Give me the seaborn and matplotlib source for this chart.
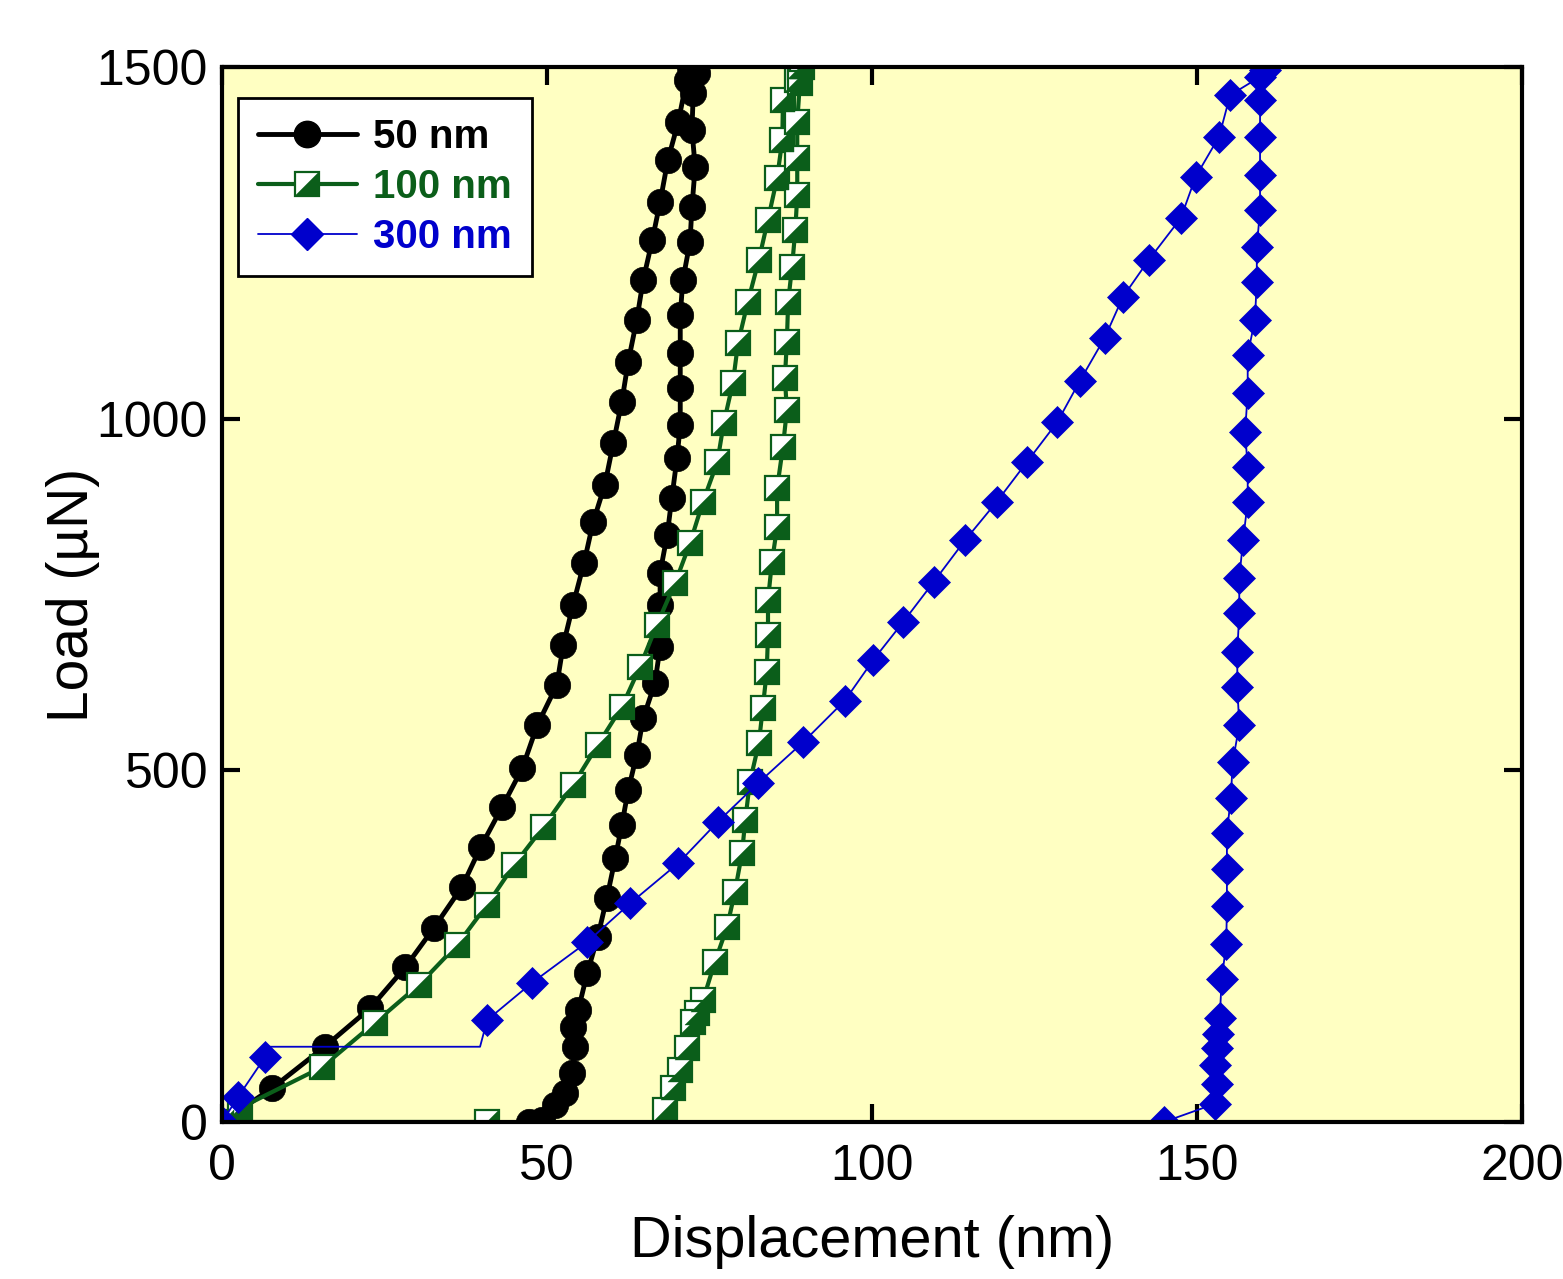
import numpy as np
import pandas as pd
import matplotlib
matplotlib.use("Agg")
import matplotlib.pyplot as plt
from matplotlib.path import Path
from matplotlib.lines import Line2D
from matplotlib.legend_handler import HandlerTuple
import seaborn as sns

# ---------------- data ----------------
# 50 nm film (loading then unloading)
disp_50 = [0, 7.7, 15.8, 22.8, 28.2, 32.6, 36.9, 39.8, 43.1, 46.2, 48.5, 51.5, 52.5, 54.0,
           55.7, 57.1, 58.9, 60.2, 61.5, 62.5, 63.8, 64.8, 66.2, 67.4, 68.6, 70.2, 71.5, 72.0,
           73.1, 72.5, 72.3, 72.8, 72.3, 72.0, 70.9, 70.5, 70.5, 70.5, 70.5, 70.0, 69.2, 68.5,
           67.4, 67.4, 67.4, 66.6, 64.8, 63.8, 62.5, 61.5, 60.5, 59.2, 57.8, 56.2, 54.8, 54.0,
           54.3, 53.8, 52.8, 51.2, 49.2, 47.2]
load_50 = [0, 48, 107, 162, 220, 276, 334, 391, 448, 503, 564, 621, 678, 735,
           795, 853, 906, 965, 1024, 1081, 1140, 1197, 1254, 1308, 1368, 1422, 1482, 1500,
           1492, 1463, 1410, 1358, 1301, 1251, 1197, 1147, 1093, 1044, 991, 944, 887, 835,
           781, 735, 675, 624, 574, 522, 472, 422, 375, 318, 263, 212, 159, 135,
           107, 70, 41, 24, 3, 0]

# 100 nm film
disp_100 = [40.8, 0, 2.8, 15.4, 23.5, 30.3, 36.2, 40.8, 44.9, 49.4, 54.0, 57.8, 61.5, 64.3,
            66.9, 69.7, 72.0, 74.0, 76.2, 77.2, 78.6, 79.4, 80.9, 82.6, 84.0, 85.4, 86.2,
            86.3, 88.5, 88.9,
            89.2, 88.9, 88.5, 88.5, 88.5, 88.2, 87.7, 87.1, 86.9, 86.6, 86.9, 86.3, 85.4,
            85.4, 84.6, 84.0, 84.0, 83.8, 83.2, 82.6, 81.2, 80.5, 80.0, 78.9, 77.7, 75.8,
            74.0, 73.1, 72.5, 71.5, 70.5, 69.4, 68.2]
load_100 = [0, 0, 20, 78, 141, 195, 252, 309, 365, 419, 479, 536, 590, 647,
            707, 766, 823, 882, 938, 994, 1051, 1108, 1166, 1226, 1283, 1342, 1396,
            1453, 1482, 1500,
            1500, 1477, 1422, 1371, 1318, 1268, 1216, 1166, 1109, 1058, 1012, 960, 901,
            846, 796, 742, 692, 640, 589, 539, 483, 429, 382, 327, 277, 227,
            173, 155, 142, 105, 74, 48, 17]

# 300 nm film
disp_300 = [0, 2.5, 6.6, 6.8, 39.7, 40.8, 47.7, 56.2, 62.8, 70.2, 76.3, 82.5, 89.4, 95.8,
            100.2, 104.8, 109.5, 114.3, 119.2, 123.8, 128.5, 132.0, 135.8, 138.6, 142.6,
            147.5, 149.8, 153.4, 155.1, 159.7,
            160.5, 159.7, 159.7, 159.7, 159.7, 159.2, 159.2, 158.9, 157.8, 157.8, 157.4,
            157.8, 157.8, 157.1, 156.5, 156.5, 156.2, 156.2, 156.5, 155.5, 155.2, 154.6,
            154.6, 154.6, 154.5, 153.8, 153.5, 153.2, 153.1, 152.8, 153.1, 152.8, 144.9]
load_300 = [0, 36, 92, 107, 107, 145, 198, 256, 311, 368, 427, 482, 540, 599,
            657, 711, 768, 827, 882, 938, 995, 1054, 1115, 1173, 1226,
            1285, 1344, 1401, 1460, 1486,
            1496, 1453, 1401, 1346, 1297, 1244, 1194, 1140, 1091, 1037, 981,
            931, 882, 828, 773, 724, 668, 619, 564, 512, 461, 411,
            360, 307, 253, 203, 148, 125, 105, 81, 54, 26, 0]
marked_300 = [i for i in range(len(disp_300)) if i not in (3, 4)]

labels = ["50 nm", "100 nm", "300 nm"]
x_ticks = [0, 50, 100, 150, 200]
y_ticks = [0, 500, 1000, 1500]

# ---------------- style ----------------
sns.set_theme(style="ticks")
plt.rcParams['font.family'] = ['Liberation Sans', 'DejaVu Sans']
plt.rcParams['axes.labelcolor'] = 'black'
plt.rcParams['text.color'] = 'black'

BLACK = "#000000"
GREEN = "#0B5E1A"
BLUE = "#0000CC"
BG = "#FFFFC2"

fig = plt.figure(figsize=(15.63, 12.79), dpi=100)
ax = fig.add_axes([222 / 1563, 1 - 1122 / 1279, 1300 / 1563, 1055 / 1279])
ax.set_facecolor(BG)

df50 = pd.DataFrame({"x": disp_50, "y": load_50})
df100 = pd.DataFrame({"x": disp_100, "y": load_100})
df300 = pd.DataFrame({"x": disp_300, "y": load_300})

sns.lineplot(data=df50, x="x", y="y", sort=False, estimator=None, ax=ax,
             color=BLACK, lw=3.5, marker="o", markersize=19,
             markerfacecolor=BLACK, markeredgecolor=BLACK, markeredgewidth=0.5)

tri = Path([(1, 1), (1, -1), (-1, -1), (1, 1)],
           [Path.MOVETO, Path.LINETO, Path.LINETO, Path.CLOSEPOLY])
sq_kw = dict(marker="s", markersize=17, markerfacecolor="white",
             markeredgecolor=GREEN, markeredgewidth=1.6)
tri_kw = dict(marker=tri, markersize=17, markerfacecolor=GREEN,
              markeredgecolor=GREEN, markeredgewidth=0.3)
sns.lineplot(data=df100, x="x", y="y", sort=False, estimator=None, ax=ax,
             color=GREEN, lw=3.0, **sq_kw)
sns.lineplot(data=df100, x="x", y="y", sort=False, estimator=None, ax=ax,
             color=GREEN, linestyle="none", **tri_kw)

sns.lineplot(data=df300, x="x", y="y", sort=False, estimator=None, ax=ax,
             color=BLUE, lw=1.3, marker="D", markersize=16, markevery=marked_300,
             markerfacecolor=BLUE, markeredgecolor=BLUE, markeredgewidth=0.5)

ax.set_xlim(0, 200)
ax.set_ylim(0, 1500)
ax.set_xticks(x_ticks)
ax.set_yticks(y_ticks)
ax.set_xlabel("Displacement (nm)", fontsize=41.5, labelpad=18, color="black")
ax.set_ylabel("Load (\u00b5N)", fontsize=41, labelpad=-2, color="black")
ax.tick_params(axis="both", which="major", direction="in", length=13, width=3,
               top=True, right=True, labelsize=36, colors="black")
ax.tick_params(axis="x", pad=16)
ax.tick_params(axis="y", pad=10)
for s in ax.spines.values():
    s.set_visible(True)
    s.set_linewidth(3)
    s.set_color("black")
ax.grid(False)

# legend
h50 = Line2D([], [], color=BLACK, lw=3.5, marker="o", markersize=19,
             markerfacecolor=BLACK, markeredgecolor=BLACK)
h100a = Line2D([], [], color=GREEN, lw=3.0, **sq_kw)
h100b = Line2D([], [], color=GREEN, linestyle="none", **tri_kw)
h300 = Line2D([], [], color=BLUE, lw=1.3, marker="D", markersize=16,
              markerfacecolor=BLUE, markeredgecolor=BLUE)
leg = ax.legend([h50, (h100a, h100b), h300], labels,
                handler_map={tuple: HandlerTuple(ndivide=1, pad=0)},
                loc="upper left", bbox_to_anchor=(0.0123, 0.9706), borderaxespad=0,
                prop={"size": 29, "weight": "bold"}, handlelength=2.45,
                handletextpad=0.4, labelspacing=0.3, borderpad=0.5,
                fancybox=False, frameon=True, framealpha=1,
                labelcolor=[BLACK, GREEN, BLUE])
leg.get_frame().set_edgecolor("black")
leg.get_frame().set_linewidth(2)
leg.get_frame().set_facecolor("white")

fig.savefig("out.png", dpi=100)
